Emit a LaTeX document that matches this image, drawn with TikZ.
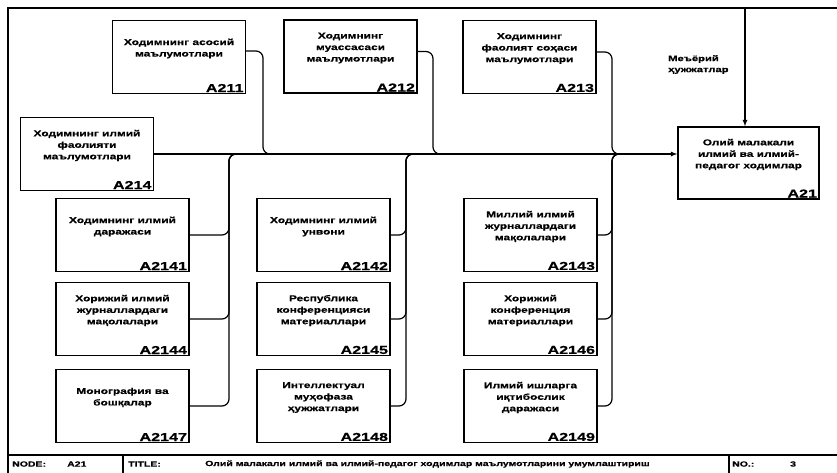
\documentclass[tikz,border=0pt]{standalone}
\usepackage{fontspec}
\newfontfamily\diafont[FakeStretch=1.4, FakeBold=0.6]{Liberation Sans}
\usetikzlibrary{arrows}

\begin{document}
\begin{tikzpicture}[x=1pt, y=-1pt]
        \tikzstyle{every node} = [font=\diafont\bfseries\fontsize{8.5}{11.5}\selectfont]
        \tikzstyle{act}  = [draw, line width=1.4pt, minimum width=133pt, minimum height=73pt, inner sep=0pt]
        \tikzstyle{txt}  = [align=center, inner sep=0pt]
        \tikzstyle{num}  = [font=\diafont\bfseries\fontsize{11.5}{12}\selectfont, anchor=south east, inner xsep=2.5pt, inner ysep=2pt]
        \tikzstyle{flow} = [line width=1.2pt, rounded corners=7pt]
        \tikzstyle{arr}  = [line width=1.2pt, -latex]
        \tikzstyle{foot} = [font=\diafont\bfseries\fontsize{7.5}{10}\selectfont, anchor=west, inner sep=0pt]

        \def\cola{122.5}
        \def\colb{323.5}
        \def\colc{530.5}
        \def\rowa{235}
        \def\rowb{319}
        \def\rowc{406}
        \def\main{154}
        \def\foot{464}

        \useasboundingbox (0,0) rectangle (837,472);
        \draw[line width=1.8pt] (838,8) -- (8,8) -- (8,473);

        % upper inputs
        \foreach \id/\x/\y/\txt in {211/179/57/{Ходимнинг асосий\\маълумотлари},
                212/350.5/56.5/{Ходимнинг\\муассасаси\\маълумотлари},
                213/529.5/57/{Ходимнинг\\фаолият соҳаси\\маълумотлари},
                214/87/\main/{Ходимнинг илмий\\фаолияти\\маълумотлари}}
        {
            \node[act] (b\id) at (\x,\y) {};
            \node[txt] (t\id) at ([yshift=8.5pt]b\id.center) {\txt};
            \node[num] (n\id) at (b\id.south east) {A\id};
        }

        % sub-inputs of A214
        \foreach \id/\x/\y/\txt in {2141/\cola/\rowa/{Ходимнинг илмий\\даражаси},
                2142/\colb/\rowa/{Ходимнинг илмий\\унвони},
                2143/\colc/\rowa/{Миллий илмий\\журналлардаги\\мақолалари},
                2144/\cola/\rowb/{Хорижий илмий\\журналлардаги\\мақолалари},
                2145/\colb/\rowb/{Республика\\конференцияси\\материаллари},
                2146/\colc/\rowb/{Хорижий\\конференция\\материаллари},
                2147/\cola/\rowc/{Монография ва\\бошқалар},
                2148/\colb/\rowc/{Интеллектуал\\муҳофаза\\ҳужжатлари},
                2149/\colc/\rowc/{Илмий ишларга\\иқтибослик\\даражаси}}
        {
            \node[act] (b\id) at (\x,\y) {};
            \node[txt] (t\id) at ([yshift=8.5pt]b\id.center) {\txt};
            \node[num] (n\id) at (b\id.south east) {A\id};
        }

        % activity
        \node[act, minimum width=141pt, minimum height=72pt] (b21) at (748.5,163) {};
        \node[txt] (t21) at ([yshift=8.5pt]b21.center) {Олий малакали\\илмий ва илмий-\\педагог ходимлар};
        \node[num] (n21) at (b21.south east) {A21};

        % control
        \coordinate (ctl) at (745,8);
        \draw[arr] (ctl) -- (ctl |- b21.north);
        \node[txt, align=left, anchor=north west, font=\diafont\bfseries\fontsize{8}{11}\selectfont] (lctl) at (668,55) {Меъёрий\\ҳужжатлар};

        % joins on the main line
        \coordinate (ja) at (229,\main);
        \coordinate (jb) at (263,\main);
        \coordinate (jc) at (406,\main);
        \coordinate (jd) at (433,\main);
        \coordinate (je) at (612,\main);

        \draw[arr] (b214.east) -- (b214.east -| b21.west);

        \draw[flow] ([yshift=6pt]b211.east) -| (jb) -- ++(12,0);
        \draw[flow] ([yshift=5pt]b212.east) -| (jd) -- ++(12,0);
        \draw[flow] ([yshift=5pt]b213.east) -| (je) -- ++(12,0);

        \foreach \id in {2141,2144,2147}
            \draw[flow] (b\id.east) -| (ja) -- ++(12,0);
        \foreach \id in {2142,2145,2148}
            \draw[flow] (b\id.east) -| (jc) -- ++(12,0);
        \foreach \id in {2143,2146,2149}
            \draw[flow] (b\id.east) -| (je) -- ++(12,0);

        % footer
        \draw[line width=1.6pt] (8,455) -- (838,455);
        \draw[line width=1.2pt] (123,455) -- (123,473);
        \draw[line width=1.2pt] (729,455) -- (729,473);

        \node[foot] (fnode)  at (12,\foot)  {NODE:};
        \node[foot] (fnum)   at (67,\foot)  {A21};
        \node[foot] (ftitle) at (128,\foot) {TITLE:};
        \node[foot] (ftext)  at (205,\foot) {Олий малакали илмий ва илмий-педагог ходимлар маълумотларини умумлаштириш};
        \node[foot] (fno)    at (732,\foot) {NO.:};
        \node[foot] (fpage)  at (790,\foot) {3};
    \end{tikzpicture}
\end{document}
